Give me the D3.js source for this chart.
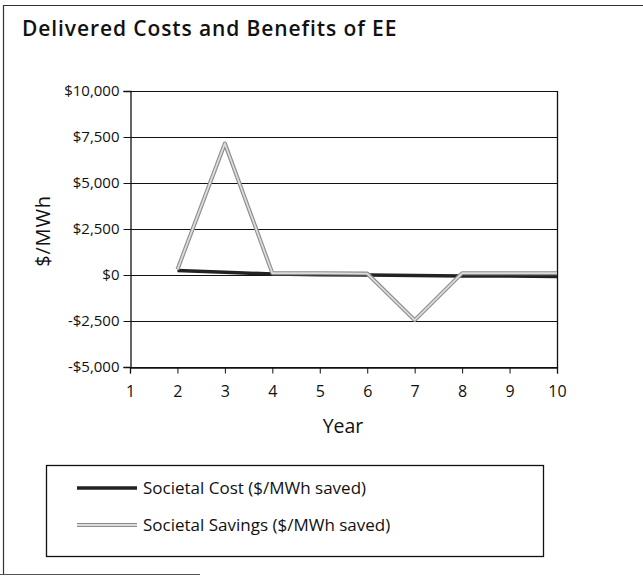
<!DOCTYPE html>
<html>
<head>
<meta charset="utf-8">
<script src="https://cdn.jsdelivr.net/npm/d3@7"></script>
<style>
  html, body { margin: 0; padding: 0; background: #fff; }
  svg { display: block; font-family: "Open Sans", "Noto Sans", sans-serif; }
</style>
</head>
<body>
<svg id="chart" width="643" height="576"></svg>
<script>
// ---- data ----
const years = [1, 2, 3, 4, 5, 6, 7, 8, 9, 10];
const societalCost = [null, 250, 150, 50, 20, 0, -30, -50, -60, -80];
const societalSavings = [null, 300, 7150, 100, 100, 80, -2450, 100, 100, 100];
const yTicks = [-5000, -2500, 0, 2500, 5000, 7500, 10000];
const xTicks = [1, 2, 3, 4, 5, 6, 7, 8, 9, 10];
const seriesNames = ["Societal Cost ($/MWh saved)", "Societal Savings ($/MWh saved)"];
const titleText = "Delivered Costs and Benefits of EE";
const yLabel = "$/MWh";
const xLabel = "Year";

const svg = d3.select("#chart");
const m = { left: 130, right: 557, top: 91, bottom: 367 };

// outer frame (top, left, partial bottom)
svg.append("line").attr("x1", 3).attr("x2", 643).attr("y1", 5.5).attr("y2", 5.5).attr("stroke", "#333").attr("stroke-width", 1.2);
svg.append("line").attr("x1", 3.5).attr("x2", 3.5).attr("y1", 5).attr("y2", 575).attr("stroke", "#333").attr("stroke-width", 1.2);
svg.append("line").attr("x1", 0).attr("x2", 200).attr("y1", 574.5).attr("y2", 574.5).attr("stroke", "#555").attr("stroke-width", 1);

svg.append("text").attr("x", 22).attr("y", 36)
  .attr("font-size", 21).attr("font-weight", 600).attr("letter-spacing", 0.9).attr("fill", "#111")
  .text(titleText);

const x = d3.scaleLinear().domain([1, 10]).range([m.left, m.right]);
const y = d3.scaleLinear().domain([-5000, 10000]).range([m.bottom, m.top]);

const fmt = v => (v < 0 ? "-$" : "$") + d3.format(",")(Math.abs(v));

// gridlines
svg.append("g").selectAll("line").data(yTicks).join("line")
  .attr("x1", m.left).attr("x2", m.right)
  .attr("y1", d => Math.round(y(d)) + 0.5).attr("y2", d => Math.round(y(d)) + 0.5)
  .attr("stroke", "#111").attr("stroke-width", 1);
// right border
svg.append("line").attr("x1", m.right + 0.5).attr("x2", m.right + 0.5)
  .attr("y1", m.top).attr("y2", m.bottom + 1).attr("stroke", "#111").attr("stroke-width", 1.3);

// y axis
const yAxis = svg.append("g").attr("transform", `translate(${m.left + 0.5},0)`)
  .call(d3.axisLeft(y).tickValues(yTicks).tickFormat(fmt).tickSize(7).tickPadding(4));
yAxis.select(".domain").attr("stroke", "#111").attr("stroke-width", 1.3);
yAxis.selectAll("line").attr("stroke", "#111");
yAxis.selectAll("text").attr("font-size", 15).attr("fill", "#111").attr("font-family", "Open Sans, Noto Sans, sans-serif");

// x axis
const xAxis = svg.append("g").attr("transform", `translate(0,${m.bottom + 0.5})`)
  .call(d3.axisBottom(x).tickValues(xTicks).tickFormat(d3.format("d")).tickSize(6).tickPadding(12));
xAxis.select(".domain").attr("stroke", "#111").attr("stroke-width", 1.3);
xAxis.selectAll("line").attr("stroke", "#111");
xAxis.selectAll("text").attr("font-size", 16).attr("fill", "#111").attr("font-family", "Open Sans, Noto Sans, sans-serif");

// axis labels
svg.append("text").attr("transform", `translate(50,231) rotate(-90)`)
  .attr("text-anchor", "middle").attr("font-size", 20).attr("letter-spacing", 0.8).attr("fill", "#111").text(yLabel);
svg.append("text").attr("x", 343).attr("y", 433)
  .attr("text-anchor", "middle").attr("font-size", 19.5).attr("fill", "#111").text(xLabel);

// lines
const line = d3.line().defined(d => d[1] !== null).x(d => x(d[0])).y(d => y(d[1]));
const costPts = years.map((yr, i) => [yr, societalCost[i]]);
const savPts = years.map((yr, i) => [yr, societalSavings[i]]);

svg.append("path").datum(costPts).attr("d", line).attr("fill", "none")
  .attr("stroke", "#222").attr("stroke-width", 3.5).attr("stroke-linejoin", "round");
svg.append("path").datum(savPts).attr("d", line).attr("fill", "none")
  .attr("stroke", "#8c8c8c").attr("stroke-width", 4).attr("stroke-linejoin", "round");
svg.append("path").datum(savPts).attr("d", line).attr("fill", "none")
  .attr("stroke", "#dcdcdc").attr("stroke-width", 1.8).attr("stroke-linejoin", "round");

// legend
const lg = svg.append("g");
lg.append("rect").attr("x", 46.5).attr("y", 465.5).attr("width", 497).attr("height", 91)
  .attr("fill", "none").attr("stroke", "#111").attr("stroke-width", 1.3);
const legY = [488, 525];
lg.append("line").attr("x1", 77).attr("x2", 137).attr("y1", legY[0]).attr("y2", legY[0])
  .attr("stroke", "#222").attr("stroke-width", 3.5);
lg.append("line").attr("x1", 77).attr("x2", 137).attr("y1", legY[1]).attr("y2", legY[1])
  .attr("stroke", "#8c8c8c").attr("stroke-width", 4);
lg.append("line").attr("x1", 77).attr("x2", 137).attr("y1", legY[1]).attr("y2", legY[1])
  .attr("stroke", "#dcdcdc").attr("stroke-width", 1.8);
lg.selectAll("text.leg").data(seriesNames).join("text").attr("class", "leg")
  .attr("x", 143).attr("y", (d, i) => legY[i] + 6)
  .attr("font-size", 17).attr("fill", "#111").text(d => d);
</script>
</body>
</html>
